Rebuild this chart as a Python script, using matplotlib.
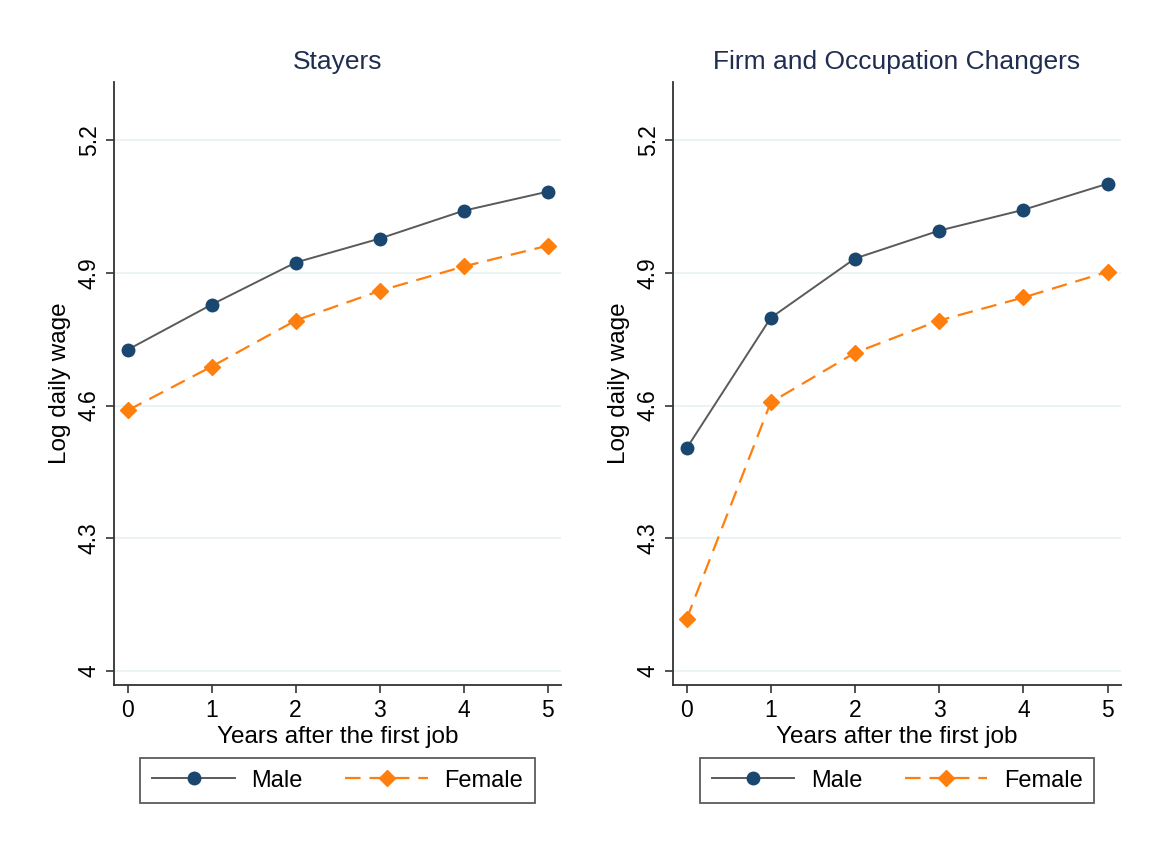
import matplotlib
matplotlib.use("Agg")
import matplotlib.pyplot as plt

plt.rcParams['font.family'] = ['Liberation Sans', 'DejaVu Sans']

years = [0, 1, 2, 3, 4, 5]
titulos = ["Stayers", "Firm and Occupation Changers"]
hombres = [
    [4.726, 4.828, 4.923, 4.977, 5.040, 5.083],
    [4.503, 4.798, 4.932, 4.995, 5.042, 5.101],
]
mujeres = [
    [4.589, 4.688, 4.792, 4.859, 4.914, 4.961],
    [4.117, 4.607, 4.719, 4.792, 4.844, 4.902],
]
yticks = [4, 4.3, 4.6, 4.9, 5.2]
ytick_labels = ["4", "4.3", "4.6", "4.9", "5.2"]

navy = '#1a476f'
gris = '#5a5a5a'
naranja = '#ff7f0e'
grid_color = '#eaf2f3'
title_color = '#1e2d50'

fig = plt.figure(figsize=(11.56, 8.44), dpi=100)
posiciones = [[0.0986, 0.188, 0.387, 0.715], [0.582, 0.188, 0.388, 0.715]]

for i in range(2):
    ax = fig.add_axes(posiciones[i])
    ax.plot(years, hombres[i], color=gris, lw=1.4, marker='o', ms=9,
            mfc=navy, mec=navy, label='Male', zorder=3)
    ax.plot(years, mujeres[i], color=naranja, lw=1.6, ls=(0, (7, 4)),
            marker='D', ms=8.5, mfc=naranja, mec=naranja, label='Female', zorder=3)
    ax.set_xlim(-0.163, 5.163)
    ax.set_ylim(3.968, 5.331)
    ax.set_xticks(years)
    ax.set_yticks(yticks)
    ax.set_yticklabels(ytick_labels, rotation=90, va='center')
    ax.tick_params(labelsize=16.5, length=6, width=1.2, color='#333333')
    ax.yaxis.grid(True, color=grid_color, lw=1.3)
    ax.set_axisbelow(True)
    for s in ['top', 'right']:
        ax.spines[s].set_visible(False)
    for s in ['left', 'bottom']:
        ax.spines[s].set_linewidth(1.3)
        ax.spines[s].set_color('#333333')
    ax.set_title(titulos[i], fontsize=19, color=title_color, pad=9)
    ax.set_xlabel("Years after the first job", fontsize=17.5, labelpad=3)
    ax.set_ylabel("Log daily wage", fontsize=17.5, labelpad=5)
    leg = ax.legend(loc='upper center', bbox_to_anchor=(0.5, -0.12), ncol=2,
                    frameon=True, fancybox=False, fontsize=17, handlelength=3.5,
                    columnspacing=1.8, handletextpad=0.7, borderpad=0.5,
                    borderaxespad=0)
    leg.get_frame().set_edgecolor('#333333')
    leg.get_frame().set_linewidth(1.3)

fig.savefig("out.png", dpi=100, facecolor='white')
